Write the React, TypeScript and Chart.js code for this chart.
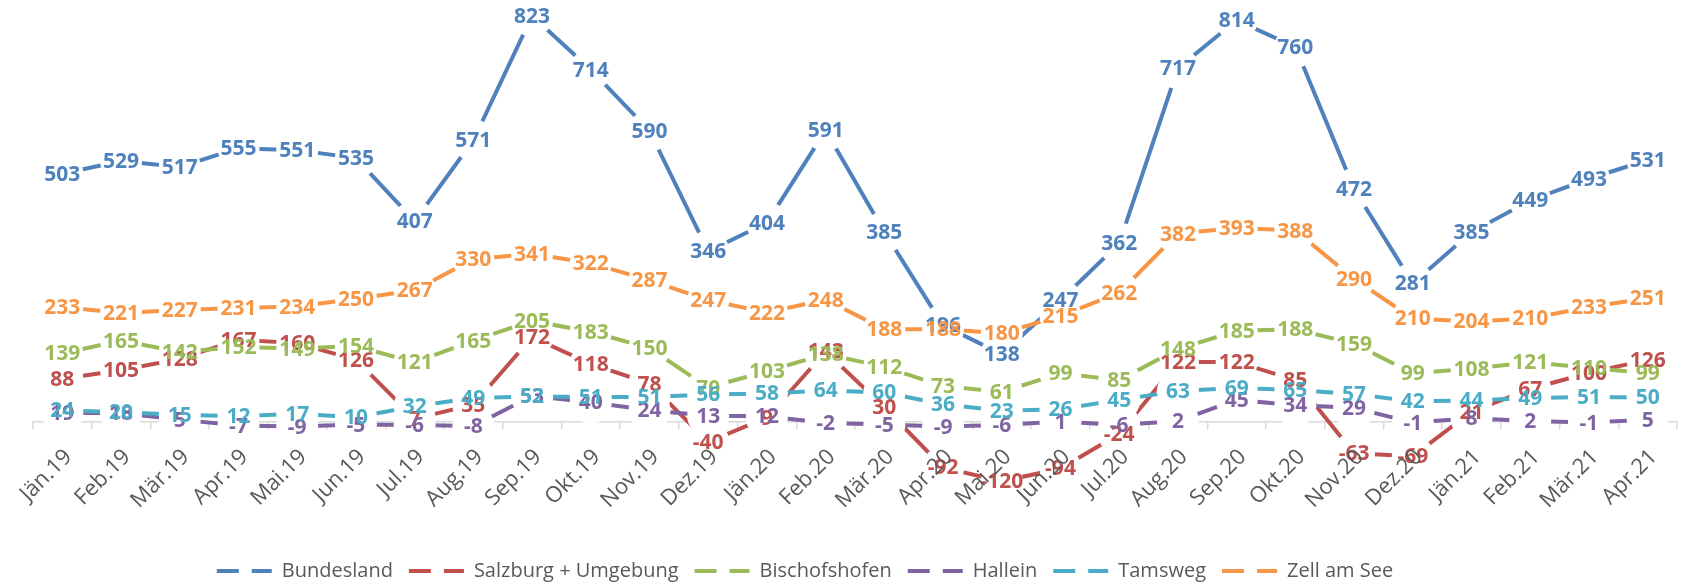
import React, { useEffect, useRef } from 'react';
import { Chart, registerables } from 'chart.js';

Chart.register(...registerables);

const categories = [
  'Jän.19', 'Feb.19', 'Mär.19', 'Apr.19', 'Mai.19', 'Jun.19', 'Jul.19', 'Aug.19', 'Sep.19', 'Okt.19', 'Nov.19', 'Dez.19',
  'Jän.20', 'Feb.20', 'Mär.20', 'Apr.20', 'Mai.20', 'Jun.20', 'Jul.20', 'Aug.20', 'Sep.20', 'Okt.20', 'Nov.20', 'Dez.20',
  'Jän.21', 'Feb.21', 'Mär.21', 'Apr.21',
];

const bundesland = [503, 529, 517, 555, 551, 535, 407, 571, 823, 714, 590, 346, 404, 591, 385, 196, 138, 247, 362, 717, 814, 760, 472, 281, 385, 449, 493, 531];
const salzburgUmgebung = [88, 105, 128, 167, 160, 126, 7, 35, 172, 118, 78, -40, 9, 143, 30, -92, -120, -94, -24, 122, 122, 85, -63, -69, 21, 67, 100, 126];
const bischofshofen = [139, 165, 142, 152, 149, 154, 121, 165, 205, 183, 150, 70, 103, 138, 112, 73, 61, 99, 85, 148, 185, 188, 159, 99, 108, 121, 110, 99];
const hallein = [19, 18, 5, -7, -9, -5, -6, -8, 53, 40, 24, 13, 12, -2, -5, -9, -6, 1, -6, 2, 45, 34, 29, -1, 8, 2, -1, 5];
const tamsweg = [24, 20, 15, 12, 17, 10, 32, 49, 52, 51, 51, 56, 58, 64, 60, 36, 23, 26, 45, 63, 69, 65, 57, 42, 44, 49, 51, 50];
const zellAmSee = [233, 221, 227, 231, 234, 250, 267, 330, 341, 322, 287, 247, 222, 248, 188, 188, 180, 215, 262, 382, 393, 388, 290, 210, 204, 210, 233, 251];

const seriesNames = ['Bundesland', 'Salzburg + Umgebung', 'Bischofshofen', 'Hallein', 'Tamsweg', 'Zell am See'];
const seriesColors = ['#4F81BD', '#C0504D', '#9BBB59', '#8064A2', '#4BACC6', '#F79646'];

const Y_MIN = -249;
const Y_MAX = 843;

const dataLabelPlugin = {
  id: 'dataLabels',
  afterDatasetsDraw(chart: any) {
    const ctx = chart.ctx;
    ctx.save();
    ctx.font = 'bold 21px "Open Sans"';
    ctx.textAlign = 'center';
    ctx.textBaseline = 'middle';
    chart.data.datasets.forEach((ds: any, i: number) => {
      const meta = chart.getDatasetMeta(i);
      ctx.fillStyle = ds.borderColor;
      meta.data.forEach((pt: any, j: number) => {
        ctx.fillText(String(ds.data[j]), pt.x, pt.y + 1);
      });
    });
    ctx.restore();
  },
};

const legendShiftPlugin = {
  id: 'legendShift',
  afterLayout(chart: any) {
    const lg = chart.legend;
    if (lg) {
      lg.left -= 50;
      lg.right -= 50;
    }
  },
};

export default function App() {
  const ref = useRef<HTMLCanvasElement>(null);

  useEffect(() => {
    const series = [bundesland, salzburgUmgebung, bischofshofen, hallein, tamsweg, zellAmSee];
    const chart = new Chart(ref.current as HTMLCanvasElement, {
      type: 'line',
      data: {
        labels: categories,
        datasets: series.map((data, i) => ({
          label: seriesNames[i],
          data,
          borderColor: seriesColors[i],
          backgroundColor: seriesColors[i],
          borderWidth: 4,
          tension: 0,
          fill: false,
          pointRadius: 21,
          pointHoverRadius: 21,
          pointBackgroundColor: '#ffffff',
          pointBorderColor: '#ffffff',
          pointBorderWidth: 0,
          order: series.length - i,
        })),
      },
      options: {
        responsive: false,
        animation: false,
        devicePixelRatio: 1,
        events: [],
        layout: { autoPadding: false, padding: { left: 33, right: 11, top: 6, bottom: -6 } },
        scales: {
          x: {
            type: 'category',
            position: { y: 0 },
            offset: true,
            grid: {
              display: true,
              drawOnChartArea: false,
              drawTicks: true,
              tickLength: 7,
              color: '#d9d9d9',
              lineWidth: 1.5,
              offset: true,
            },
            border: { display: true, color: '#d9d9d9', width: 1.5 },
            ticks: {
              autoSkip: false,
              minRotation: 45,
              maxRotation: 45,
              color: '#595959',
              font: { family: '"Open Sans"', size: 22 },
              padding: 15,
              labelOffset: 6,
              z: 1,
            },
          },
          y: { display: false, min: Y_MIN, max: Y_MAX },
        },
        plugins: {
          legend: {
            position: 'bottom',
            labels: {
              usePointStyle: true,
              pointStyle: 'line',
              pointStyleWidth: 55,
              padding: 16,
              color: '#595959',
              font: { family: '"Open Sans"', size: 20 },
              sort: (a: any, b: any) => a.datasetIndex - b.datasetIndex,
              generateLabels: (c: any) => {
                const items = (Chart.defaults.plugins.legend.labels as any).generateLabels(c);
                return items.map((it: any) => ({
                  ...it,
                  strokeStyle: seriesColors[it.datasetIndex],
                  fillStyle: seriesColors[it.datasetIndex],
                  lineDash: [22, 13],
                  lineWidth: 4,
                }));
              },
            },
          },
          tooltip: { enabled: false },
        },
      } as any,
      plugins: [dataLabelPlugin, legendShiftPlugin],
    });
    return () => chart.destroy();
  }, []);

  return (
    <div style={{ position: 'absolute', left: 0, top: 0, width: 1688, height: 585, background: '#ffffff' }}>
      <canvas ref={ref} width={1688} height={585} />
    </div>
  );
}
